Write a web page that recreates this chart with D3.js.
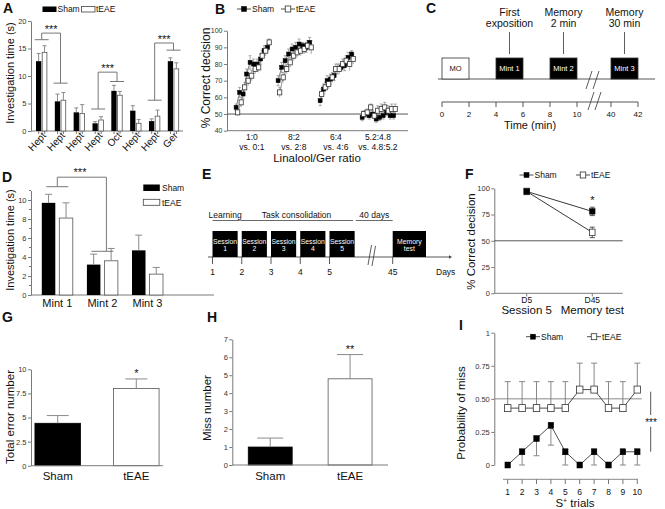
<!DOCTYPE html>
<html><head><meta charset="utf-8">
<script src="https://cdn.jsdelivr.net/npm/d3@7"></script>
<style>body{margin:0;background:#fff}</style>
</head><body><svg id="c" width="665" height="509"></svg>
<script>
// ---------------- DATA ----------------
// Panel A
const aOdors = ["Hept","Hept","Hept","Hept","Oct","Hept","Hept","Ger"];
const aSham = [12.7,5.4,3.4,1.4,7.3,3.7,1.8,12.7];
const aShamErr = [1.4,1.3,0.8,0.3,1.0,0.9,0.4,0.6];
const aTeae = [14.3,5.6,3.2,2.0,6.5,1.4,2.7,11.3];
const aTeaeErr = [1.2,1.4,1.6,0.6,0.7,0.7,1.1,1.1];
const aYTicks = [0,5,10,15,20];
const aBrackets = [ // [group1, level1, group2, level2, top]
  [0,16.6,1,8.7,17.8],
  [3,4.0,4,9.0,10.7],
  [6,5.6,7,14.7,16.0]
];
// Panel B
const bRatios = ["1:0","8:2","6:4","5.2:4.8"];
const bVs = ["vs. 0:1","vs. 2:8","vs. 4:6","vs. 4.8:5.2"];
const bSham = [
  [54,63,62,74,81,80,80,83,88,90],
  [70,78,82,86,89,90,92,91,90,93],
  [58,65,70,71,73,77,78,79,84,86],
  [48,50,49,50,47,48,49,51,49,49]
];
const bShamErr = [
  [2,3,3,3,4,3,3,3,3,2],
  [3,3,3,3,3,3,3,2,3,3],
  [3,3,3,3,3,3,2,3,3,2],
  [2,2,2,2,2,2,2,2,2,2]
];
const bTeae = [
  [51,57,66,70,73,77,78,85,88,93],
  [63,72,77,81,85,87,88,89,91,90],
  [62,66,68,72,77,77,80,82,80,83],
  [50,51,54,49,52,53,54,52,53,53]
];
const bTeaeErr = [
  [2,3,3,3,3,3,3,3,3,2],
  [3,3,3,3,3,3,3,3,3,4],
  [3,3,3,3,3,3,3,3,4,3],
  [2,2,2,2,3,3,3,3,3,3]
];
const bYTicks = [40,50,60,70,80,90,100];
// Panel C
const cTicks = [0,2,4,6,8,10,40,42];
const cBoxes = [["MO",0,2,false],["Mint 1",4,6,true],["Mint 2",8,10,true],["Mint 3",40,42,true]];
const cEvents = [[["First","exposition"],5],[["Memory","2 min"],9],[["Memory","30 min"],41]];
// Panel D
const dGroups = ["Mint 1","Mint 2","Mint 3"];
const dSham = [9.7,3.2,4.7];
const dShamErr = [0.9,1.1,1.6];
const dTeae = [8.1,3.6,2.2];
const dTeaeErr = [1.6,1.3,0.7];
const dYTicks = [0,2,4,6,8,10];
const dMinor = [1,3,5,7,9,11];
// Panel E
const eTicks = [1,2,3,4,5,45];
const eSessions = [[["Session","1"],1],[["Session","2"],2],[["Session","3"],3],[["Session","4"],4],[["Session","5"],5],[["Memory","test"],45]];
const ePhases = [["Learning",1,1.93],["Task consolidation",1.95,5.8],["40 days",5.9,45]];
// Panel F
const fDays = ["D5","D45"];
const fDayLabels = ["Session 5","Memory test"];
const fSham = [97,78];
const fShamErr = [1.5,4];
const fTeae = [97,58];
const fTeaeErr = [1.5,5];
const fYTicks = [0,25,50,75,100];
// Panel G
const gGroups = ["Sham","tEAE"];
const gValues = [4.4,8.0];
const gErr = [0.8,1.0];
const gYTicks = [0,2.5,5,7.5,10];
// Panel H
const hGroups = ["Sham","tEAE"];
const hValues = [1.0,4.8];
const hErr = [0.5,1.35];
const hYTicks = [0,1,2,3,4,5,6,7];
// Panel I
const iTrials = [1,2,3,4,5,6,7,8,9,10];
const iSham = [0,0.1,0.2,0.3,0.1,0,0.1,0,0.1,0.1];
const iShamErrLow = [0,0.1,0.13,0.15,0.1,0,0.1,0,0.1,0.1];
const iTeae = [0.43,0.43,0.43,0.43,0.43,0.57,0.57,0.43,0.43,0.57];
const iTeaeErrHigh = [0.2,0.2,0.2,0.2,0.2,0.2,0.2,0.2,0.2,0.2];
const iYTicks = [0,0.25,0.5,0.75,1];

// ---------------- HELPERS ----------------
const FONT = "'Liberation Sans', Arial, Helvetica, sans-serif";
const svg = d3.select("#c").attr("font-family", FONT);
const AX = "#7a7a7a", EB = "#8a8a8a", LN = "#555";

function txt(x, y, s, size, o = {}) {
  const t = svg.append("text").attr("x", x).attr("y", y).attr("font-size", size).text(s)
    .attr("fill", o.fill || "#111");
  if (o.anchor) t.attr("text-anchor", o.anchor);
  if (o.weight) t.attr("font-weight", o.weight);
  if (o.rotate !== undefined) t.attr("transform", `rotate(${o.rotate},${x},${y})`);
  return t;
}
function ln(x1, y1, x2, y2, stroke = LN, w = 1) {
  return svg.append("line").attr("x1", x1).attr("y1", y1).attr("x2", x2).attr("y2", y2)
    .attr("stroke", stroke).attr("stroke-width", w);
}
function yAxis(scale, x, ticks, fmt, minor, fs) {
  const g = svg.append("g").attr("transform", `translate(${x},0)`)
    .call(d3.axisLeft(scale).tickValues(ticks).tickFormat(fmt).tickSizeInner(3).tickSizeOuter(0).tickPadding(1.5));
  g.attr("font-family", FONT);
  g.select(".domain").attr("stroke", AX);
  g.selectAll(".tick line").attr("stroke", AX);
  g.selectAll(".tick text").attr("font-size", fs || 7.5).attr("fill", "#333");
  if (minor) g.selectAll(null).data(minor).enter().append("line")
    .attr("x1", -2).attr("x2", 0).attr("y1", d => scale(d)).attr("y2", d => scale(d)).attr("stroke", AX);
  return g;
}
function errBar(x, y1, y2, half, color = EB, w = 1) {
  ln(x, y1, x, y2, color, w);
  ln(x - half, y2, x + half, y2, color, w);
}
function sq(x, y, s, filled, h) {
  h = h || s;
  svg.append("rect").attr("x", x - s / 2).attr("y", y - h / 2).attr("width", s).attr("height", h)
    .attr("fill", filled ? "#000" : "#fff").attr("stroke", filled ? "#000" : "#333").attr("stroke-width", filled ? 0.5 : 0.8);
}
function legendLS(x0, y, label, filled, size) {
  ln(x0, y, x0 + 14, y, "#222", 0.8);
  sq(x0 + 7, y, filled ? 5 : 5.5, filled, filled ? 5 : 6);
  txt(x0 + 15, y + 3, label, size || 8.5);
}

// Panel letters
[["A",3,13],["B",215,14],["C",426,13],["D",2,181.5],["E",202,178.5],["F",465,178.5],["G",2,322],["H",207,322],["I",459,330]]
  .forEach(([l,x,y]) => txt(x, y, l, 14, {weight: "bold"}));

// ---------------- PANEL A ----------------
(function () {
  const x = d3.scalePoint().domain(d3.range(aOdors.length)).range([41.7, 173.5]);
  const y = d3.scaleLinear().domain([0, 20]).range([131, 21]);
  yAxis(y, 31, aYTicks, d3.format("d"));
  ln(31, 131, 183, 131, AX);
  const bw = 5.3;
  aOdors.forEach((o, i) => {
    const c = x(i);
    svg.append("rect").attr("x", c - 5.7).attr("y", y(aSham[i])).attr("width", bw).attr("height", y(0) - y(aSham[i])).attr("fill", "#000");
    svg.append("rect").attr("x", c + 0.5).attr("y", y(aTeae[i])).attr("width", bw - 0.6).attr("height", y(0) - y(aTeae[i])).attr("fill", "#fff").attr("stroke", "#555").attr("stroke-width", 0.8);
    errBar(c - 5.7 + bw / 2, y(aSham[i]), y(aSham[i] + aShamErr[i]), 2);
    errBar(c + 0.5 + bw / 2 - 0.3, y(aTeae[i]), y(aTeae[i] + aTeaeErr[i]), 2);
    ln(c - 3, 131, c - 3, 134, AX); ln(c + 3, 131, c + 3, 134, AX);
    txt(c + 5, 136, o, 10, {anchor: "end", rotate: -48});
  });
  aBrackets.forEach(([g1, v1, g2, v2, top]) => {
    const c1 = x(g1), c2 = x(g2);
    ln(c1 - 7, y(v1), c1 + 7, y(v1), "#777");
    ln(c2 - 7, y(v2), c2 + 7, y(v2), "#777");
    ln(c1, y(v1), c1, y(top), "#777"); ln(c1, y(top), c2, y(top), "#777"); ln(c2, y(top), c2, y(v2), "#777");
    txt((c1 + c2) / 2, y(top) - 0.5, "***", 11, {anchor: "middle"});
  });
  // legend
  svg.append("rect").attr("x", 42.5).attr("y", 6.5).attr("width", 14).attr("height", 5.5).attr("fill", "#000");
  txt(57.5, 12.3, "Sham", 8.5);
  svg.append("rect").attr("x", 81.5).attr("y", 6.5).attr("width", 13.5).attr("height", 5.5).attr("fill", "#fff").attr("stroke", "#444").attr("stroke-width", 0.8);
  txt(96, 12.3, "tEAE", 8.5);
  txt(14, 73, "Investigation time (s)", 11, {anchor: "middle", rotate: -90});
})();

// ---------------- PANEL B ----------------
(function () {
  const x = d3.scaleLinear().domain([-2.6, 49.1]).range([227, 408]);
  const y = d3.scaleLinear().domain([40, 100]).range([130.7, 30.7]);
  yAxis(y, 227, bYTicks, d3.format("d"), null, 7);
  ln(227, 130.7, 408, 130.7, AX);
  ln(227, y(50), 408, y(50), "#444", 0.9);
  const lineGen = d3.line().x(d => d[0]).y(d => d[1]);
  bRatios.forEach((r, c) => {
    const ps = bSham[c].map((v, i) => [x(c * 12 + i), y(v)]);
    const pt = bTeae[c].map((v, i) => [x(c * 12 + i + 0.45), y(v)]);
    svg.append("path").attr("d", lineGen(ps)).attr("fill", "none").attr("stroke", "#222").attr("stroke-width", 0.6);
    svg.append("path").attr("d", lineGen(pt)).attr("fill", "none").attr("stroke", "#444").attr("stroke-width", 0.6);
    bSham[c].forEach((v, i) => {
      const px = x(c * 12 + i);
      ln(px, y(v - bShamErr[c][i]), px, y(v + bShamErr[c][i]), EB, 0.7);
      ln(px - 1.5, y(v + bShamErr[c][i]), px + 1.5, y(v + bShamErr[c][i]), EB, 0.7);
      ln(px - 1.5, y(v - bShamErr[c][i]), px + 1.5, y(v - bShamErr[c][i]), EB, 0.7);
    });
    bTeae[c].forEach((v, i) => {
      const px = x(c * 12 + i + 0.45);
      ln(px, y(v - bTeaeErr[c][i]), px, y(v + bTeaeErr[c][i]), EB, 0.7);
      ln(px - 1.5, y(v + bTeaeErr[c][i]), px + 1.5, y(v + bTeaeErr[c][i]), EB, 0.7);
    });
    bSham[c].forEach((v, i) => sq(x(c * 12 + i), y(v), 4, true));
    bTeae[c].forEach((v, i) => sq(x(c * 12 + i + 0.45), y(v), 4.2, false, 5));
    const cx = x(c * 12 + 4.5);
    txt(cx, 140, r, 8.5, {anchor: "middle"});
    txt(cx, 150, bVs[c], 8.5, {anchor: "middle"});
  });
  txt(317, 161.5, "Linalool/Ger ratio", 11.5, {anchor: "middle"});
  txt(210, 78, "% Correct decision", 12, {anchor: "middle", rotate: -90});
  legendLS(237, 9, "Sham", true);
  legendLS(281, 9, "tEAE", false);
})();

// ---------------- PANEL C ----------------
(function () {
  const x = d3.scaleLinear().domain([0, 10, 40, 42]).range([442, 577, 611, 638]);
  ln(438, 79, 655, 79, "#444", 0.9);
  cBoxes.forEach(([lab, s, e, filled]) => {
    svg.append("rect").attr("x", x(s)).attr("y", 58).attr("width", x(e) - x(s)).attr("height", 21)
      .attr("fill", filled ? "#000" : "#fff").attr("stroke", "#333").attr("stroke-width", 0.8);
    txt((x(s) + x(e)) / 2, 71, lab, 7.5, {anchor: "middle", fill: filled ? "#fff" : "#111"});
  });
  cEvents.forEach(([lines, t]) => {
    ln(x(t), 32, x(t), 54, "#333", 0.8);
    txt(x(t), 16, lines[0], 10.5, {anchor: "middle"});
    txt(x(t), 27, lines[1], 10.5, {anchor: "middle"});
  });
  // break marks
  ln(586, 89, 592, 71, "#333", 0.8); ln(593, 89, 599, 71, "#333", 0.8);
  ln(588, 110, 594, 92, "#333", 0.8); ln(595, 110, 601, 92, "#333", 0.8);
  ln(442, 102, 638, 102, "#444", 0.9);
  cTicks.forEach(t => {
    ln(x(t), 102, x(t), 107, "#444", 0.9);
    txt(x(t), 117, t, 8, {anchor: "middle"});
  });
  txt(530, 128.5, "Time (min)", 11, {anchor: "middle"});
})();

// ---------------- PANEL D ----------------
(function () {
  const x = d3.scalePoint().domain(dGroups).range([57.3, 147.5]);
  const y = d3.scaleLinear().domain([0, 11]).range([295, 190.5]);
  yAxis(y, 31, dYTicks, d3.format("d"), dMinor);
  ln(31, 295, 214, 295, AX);
  dGroups.forEach((gname, i) => {
    const c = x(gname);
    svg.append("rect").attr("x", c - 15.5).attr("y", y(dSham[i])).attr("width", 13.5).attr("height", y(0) - y(dSham[i])).attr("fill", "#000");
    svg.append("rect").attr("x", c + 2).attr("y", y(dTeae[i])).attr("width", 13.5).attr("height", y(0) - y(dTeae[i])).attr("fill", "#fff").attr("stroke", "#555").attr("stroke-width", 0.8);
    errBar(c - 8.75, y(dSham[i]), y(dSham[i] + dShamErr[i]), 3.5);
    errBar(c + 8.75, y(dTeae[i]), y(dTeae[i] + dTeaeErr[i]), 3.5);
    txt(c, 307, gname, 11, {anchor: "middle"});
  });
  const c1 = x("Mint 1"), c2 = x("Mint 2");
  ln(c1 - 11, y(11.4), c1 + 11, y(11.4), "#777");
  ln(c2 - 11, y(4.6), c2 + 11, y(4.6), "#777");
  ln(c1, y(11.4), c1, y(12.4), "#777"); ln(c1, y(12.4), c2 + 4, y(12.4), "#777"); ln(c2 + 4, y(12.4), c2 + 4, y(4.6), "#777");
  txt(80, 176, "***", 11, {anchor: "middle"});
  svg.append("rect").attr("x", 143.3).attr("y", 184.5).attr("width", 16.5).attr("height", 6.5).attr("fill", "#000");
  txt(162, 191, "Sham", 8.5);
  svg.append("rect").attr("x", 143.3).attr("y", 199.3).attr("width", 16.5).attr("height", 6).attr("fill", "#fff").attr("stroke", "#444").attr("stroke-width", 0.8);
  txt(162, 205.5, "tEAE", 8.5);
  txt(14, 240, "Investigation time (s)", 11, {anchor: "middle", rotate: -90});
})();

// ---------------- PANEL E ----------------
(function () {
  const x = d3.scaleLinear().domain([1, 6, 45, 46]).range([212.5, 358.75, 392.7, 426]);
  ln(208, 257, 449, 257, "#444", 0.9);
  svg.append("path").attr("d", "M449,255.3 L452,257 L449,258.7 Z").attr("fill", "#444");
  eSessions.forEach(([lines, d]) => {
    const w = d === 45 ? 1 : 0.86;
    svg.append("rect").attr("x", x(d)).attr("y", 231).attr("width", x(d + w) - x(d)).attr("height", 26).attr("fill", "#000");
    const cx = (x(d) + x(d + w)) / 2;
    txt(cx, 243.5, lines[0], 6.8, {anchor: "middle", fill: "#fff"});
    txt(cx, 251, lines[1], 6.8, {anchor: "middle", fill: "#fff"});
  });
  eTicks.forEach(t => {
    ln(x(t), 257, x(t), 264, "#444", 0.9);
    txt(x(t), 275, t, 8.5, {anchor: "middle"});
  });
  ePhases.forEach(([lab, s, e]) => {
    ln(x(s), 220.5, x(e), 220.5, "#444", 0.8);
    txt((x(s) + x(e)) / 2 + (lab === "Learning" ? -1 : 0), 217.5, lab, 8.5, {anchor: "middle"});
  });
  ln(368, 265, 371.5, 245, "#333", 0.8); ln(372, 266, 375.5, 246, "#333", 0.8);
  txt(436, 275, "Days", 8.5);
})();

// ---------------- PANEL F ----------------
(function () {
  const x = d3.scalePoint().domain(fDays).range([526.7, 592.3]);
  const y = d3.scaleLinear().domain([0, 100]).range([293.3, 188.3]);
  yAxis(y, 494.3, fYTicks, d3.format("d"));
  ln(494.3, 293.3, 622.7, 293.3, AX);
  ln(494.3, y(50), 622.7, y(50), "#444", 0.9);
  fDays.forEach((d, i) => {
    ln(x(d), 293.3, x(d), 296.5, AX);
    txt(x(d), 303, d, 8.5, {anchor: "middle"});
    txt(x(d), 313.5, fDayLabels[i], 11.5, {anchor: "middle"});
  });
  const lg = d3.line().x((v, i) => x(fDays[i])).y(v => y(v));
  svg.append("path").attr("d", lg(fSham)).attr("fill", "none").attr("stroke", "#222").attr("stroke-width", 0.9);
  svg.append("path").attr("d", lg(fTeae)).attr("fill", "none").attr("stroke", "#222").attr("stroke-width", 0.9);
  fDays.forEach((d, i) => {
    errBar(x(d), y(fSham[i]), y(fSham[i] + fShamErr[i]), 2.5, "#555");
    ln(x(d), y(fSham[i]), x(d), y(fSham[i] - fShamErr[i]), "#555"); ln(x(d) - 2.5, y(fSham[i] - fShamErr[i]), x(d) + 2.5, y(fSham[i] - fShamErr[i]), "#555");
    errBar(x(d), y(fTeae[i]), y(fTeae[i] + fTeaeErr[i]), 2.5, "#555");
    ln(x(d), y(fTeae[i]), x(d), y(fTeae[i] - fTeaeErr[i]), "#555"); ln(x(d) - 2.5, y(fTeae[i] - fTeaeErr[i]), x(d) + 2.5, y(fTeae[i] - fTeaeErr[i]), "#555");
  });
  fDays.forEach((d, i) => { sq(x(d), y(fTeae[i]), 5.5, false, 6.5); sq(x(d), y(fSham[i]), 5.5, true); });
  txt(x("D45"), 204, "*", 11, {anchor: "middle"});
  txt(475, 241.5, "% Correct decision", 11.5, {anchor: "middle", rotate: -90});
  legendLS(519.5, 175, "Sham", true);
  legendLS(576, 175, "tEAE", false);
})();

// ---------------- PANEL G ----------------
(function () {
  const x = d3.scaleBand().domain(gGroups).range([31, 163]).paddingInner(0.42).paddingOuter(0.05);
  const y = d3.scaleLinear().domain([0, 10]).range([465.7, 369.3]);
  yAxis(y, 31, gYTicks, d => d === 2.5 ? "2.5" : d === 7.5 ? "7.5" : d3.format("d")(d));
  gGroups.forEach((gname, i) => {
    const bx = x(gname), bw = x.bandwidth();
    svg.append("rect").attr("x", bx).attr("y", y(gValues[i])).attr("width", bw).attr("height", y(0) - y(gValues[i]))
      .attr("fill", i === 0 ? "#000" : "#fff").attr("stroke", i === 0 ? "#000" : "#555").attr("stroke-width", 0.8);
    errBar(bx + bw / 2, y(gValues[i]), y(gValues[i] + gErr[i]), 11);
    txt(bx + bw / 2, 480, gname, 11.5, {anchor: "middle"});
  });
  ln(31, 465.7, 163, 465.7, AX);
  txt(x("tEAE") + x.bandwidth() / 2, 377, "*", 11, {anchor: "middle"});
  txt(13.5, 417, "Total error number", 11.5, {anchor: "middle", rotate: -90});
})();

// ---------------- PANEL H ----------------
(function () {
  const x = d3.scaleBand().domain(hGroups).range([232.3, 388]).paddingInner(0.45).paddingOuter(0.2);
  const y = d3.scaleLinear().domain([0, 7]).range([465, 339.3]);
  yAxis(y, 232.3, hYTicks, d3.format("d"));
  hGroups.forEach((gname, i) => {
    const bx = x(gname), bw = x.bandwidth();
    svg.append("rect").attr("x", bx).attr("y", y(hValues[i])).attr("width", bw).attr("height", y(0) - y(hValues[i]))
      .attr("fill", i === 0 ? "#000" : "#fff").attr("stroke", i === 0 ? "#000" : "#555").attr("stroke-width", 0.8);
    errBar(bx + bw / 2, y(hValues[i]), y(hValues[i] + hErr[i]), 13);
    txt(bx + bw / 2, 480, gname, 11.5, {anchor: "middle"});
  });
  ln(232.3, 465, 388, 465, AX);
  txt(x("tEAE") + x.bandwidth() / 2, 352.5, "**", 11, {anchor: "middle"});
  txt(211, 408, "Miss number", 11.5, {anchor: "middle", rotate: -90});
})();

// ---------------- PANEL I ----------------
(function () {
  const x = d3.scaleLinear().domain([1, 10]).range([507.7, 637.3]);
  const y = d3.scaleLinear().domain([0, 1]).range([465, 332.7]);
  yAxis(y, 494.3, iYTicks, d => d === 0 ? "0" : d === 1 ? "1" : d.toFixed(2));
  ln(494.3, y(0.5), 641.7, y(0.5), "#888", 1);
  ln(503, 479.3, 638, 479.3, "#888", 1);
  iTrials.forEach(t => {
    ln(x(t), 479.3, x(t), 484, "#777");
    txt(x(t), 495, t, 8.5, {anchor: "middle"});
  });
  const t = txt(575, 506.5, "S", 11.5, {anchor: "middle"});
  t.text(null);
  t.append("tspan").text("S");
  t.append("tspan").attr("font-size", 7).attr("dy", -4).text("+");
  t.append("tspan").attr("dy", 4).text(" trials");
  const lg = d3.line().x((v, i) => x(iTrials[i])).y(v => y(v));
  svg.append("path").attr("d", lg(iTeae)).attr("fill", "none").attr("stroke", "#222").attr("stroke-width", 0.8);
  svg.append("path").attr("d", lg(iSham)).attr("fill", "none").attr("stroke", "#222").attr("stroke-width", 0.8);
  iTrials.forEach((tr, i) => {
    errBar(x(tr), y(iTeae[i]), y(iTeae[i] + iTeaeErrHigh[i]), 3, "#888");
    if (iShamErrLow[i] > 0) errBar(x(tr), y(iSham[i]), y(iSham[i] - iShamErrLow[i]), 3, "#888");
  });
  iTrials.forEach((tr, i) => { sq(x(tr), y(iTeae[i]), 6.5, false, 7); sq(x(tr), y(iSham[i]), 5.5, true, 6); });
  ln(650.7, 391.7, 650.7, 415, "#555"); ln(650.7, 426.7, 650.7, 451.7, "#555");
  txt(651, 426, "***", 10, {anchor: "middle"});
  txt(465, 413, "Probability of miss", 11.5, {anchor: "middle", rotate: -90});
  legendLS(526, 336.7, "Sham", true);
  legendLS(587, 336.7, "tEAE", false);
})();
</script>
</body></html>
